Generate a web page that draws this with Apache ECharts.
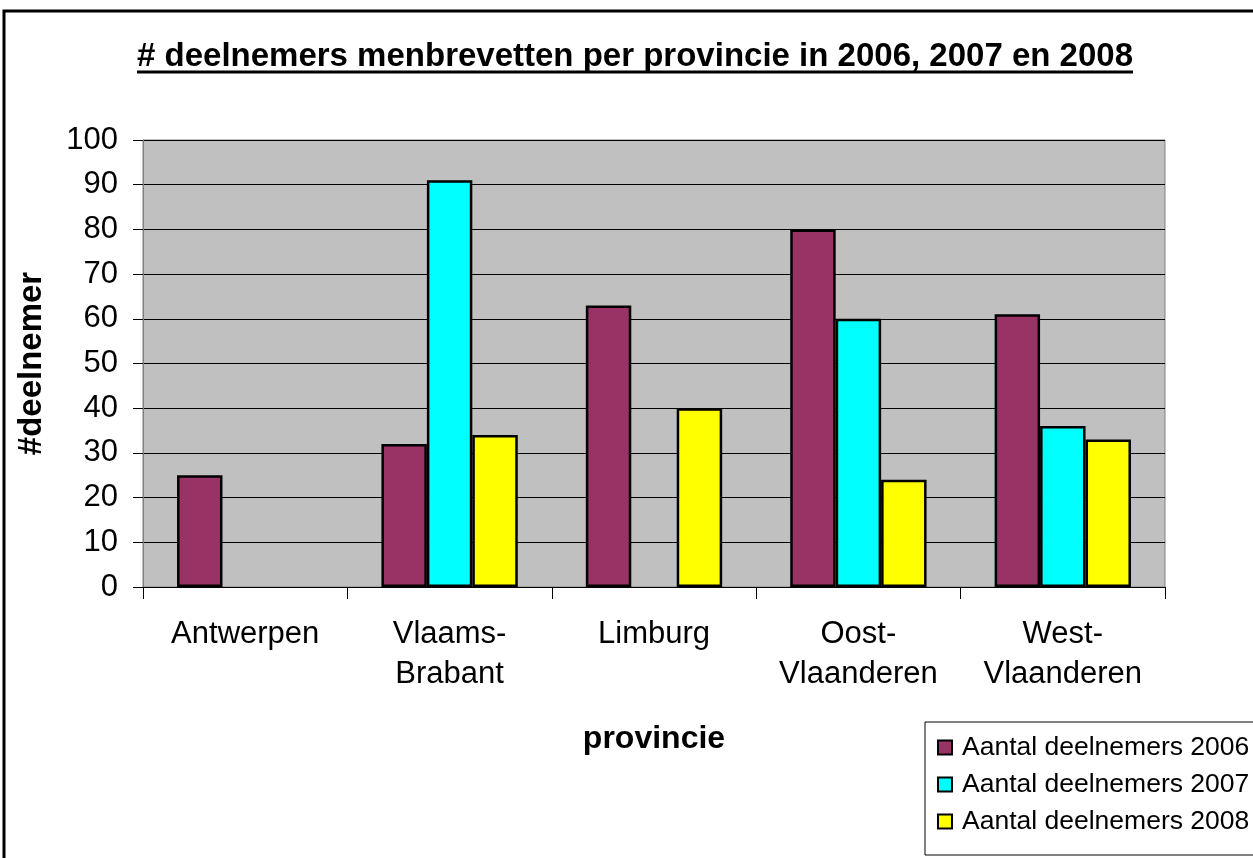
<!DOCTYPE html>
<html>
<head>
<meta charset="utf-8">
<script src="https://cdn.jsdelivr.net/npm/echarts@6/dist/echarts.min.js"></script>
<style>
html,body{margin:0;padding:0;background:#fff;}
#chart{width:1253px;height:858px;}
</style>
</head>
<body>
<div id="chart"></div>
<script>
const titleText = '# deelnemers menbrevetten per provincie in 2006, 2007 en 2008';
const categories = ['Antwerpen', 'Vlaams-\nBrabant', 'Limburg', 'Oost-\nVlaanderen', 'West-\nVlaanderen'];
const seriesNames = ['Aantal deelnemers 2006', 'Aantal deelnemers 2007', 'Aantal deelnemers 2008'];
const values2006 = [25, 32, 63, 80, 61];
const values2007 = [null, 91, null, 60, 36];
const values2008 = [null, 34, 40, 24, 33];
const yAxisName = '#deelnemer';
const xAxisName = 'provincie';

const FONT = 'Liberation Sans, Arial, sans-serif';
const colors = ['#993366', '#00FFFF', '#FFFF00'];
const allValues = [values2006, values2007, values2008];

const chart = echarts.init(document.getElementById('chart'), null, {renderer: 'canvas'});
chart.setOption({
  backgroundColor: '#ffffff',
  animation: false,
  graphic: [
    {type: 'rect', shape: {x: 4, y: 11, width: 1400, height: 1000}, style: {fill: 'none', stroke: '#000', lineWidth: 3}, z: 100},
    {type: 'text', x: 635, y: 57, style: {text: titleText, align: 'center', verticalAlign: 'middle', fontSize: 33, fontWeight: 'bold', fontFamily: FONT, fill: '#000'}},
    {type: 'line', shape: {x1: 137, y1: 72, x2: 1133, y2: 72}, style: {stroke: '#000', lineWidth: 3}}
  ],
  grid: {left: 143, right: 88, top: 140, bottom: 271, show: true, backgroundColor: '#C0C0C0', borderColor: '#808080', borderWidth: 1},
  legend: {
    orient: 'vertical', left: 925, top: 722,
    padding: [12, 40, 20, 12], itemGap: 10,
    itemWidth: 14, itemHeight: 14,
    borderColor: '#000', borderWidth: 1, backgroundColor: '#fff',
    textStyle: {fontSize: 26.5, fontFamily: FONT, color: '#000', padding: [0, 0, 0, 5]},
    data: seriesNames.map(n => ({name: n, icon: 'rect'}))
  },
  xAxis: {
    type: 'category', data: categories,
    axisLine: {lineStyle: {color: '#000', width: 1}},
    axisTick: {show: true, interval: 0, length: 12, lineStyle: {color: '#000'}},
    axisLabel: {interval: 0, hideOverlap: false, fontSize: 31, lineHeight: 40, fontFamily: FONT, color: '#000', margin: 27},
    name: xAxisName, nameLocation: 'middle', nameGap: 136,
    nameTextStyle: {fontSize: 32, fontWeight: 'bold', fontFamily: FONT, color: '#000'}
  },
  yAxis: {
    type: 'value', min: 0, max: 100, interval: 10,
    axisLine: {show: true, lineStyle: {color: '#808080', width: 1}},
    axisTick: {show: true, length: 10, lineStyle: {color: '#000'}},
    axisLabel: {fontSize: 31, fontFamily: FONT, color: '#000', margin: 25},
    splitLine: {show: true, lineStyle: {color: '#000', width: 1}},
    name: yAxisName, nameLocation: 'middle', nameRotate: 90, nameGap: 95,
    nameTextStyle: {fontSize: 33, fontWeight: 'bold', fontFamily: FONT, color: '#000'}
  },
  series: seriesNames.map((n, i) => ({
    name: n, type: 'bar', data: allValues[i],
    barGap: '0%', barCategoryGap: '33.3%',
    itemStyle: {color: colors[i], borderColor: '#000', borderWidth: 2.5}
  }))
});
</script>
</body>
</html>
